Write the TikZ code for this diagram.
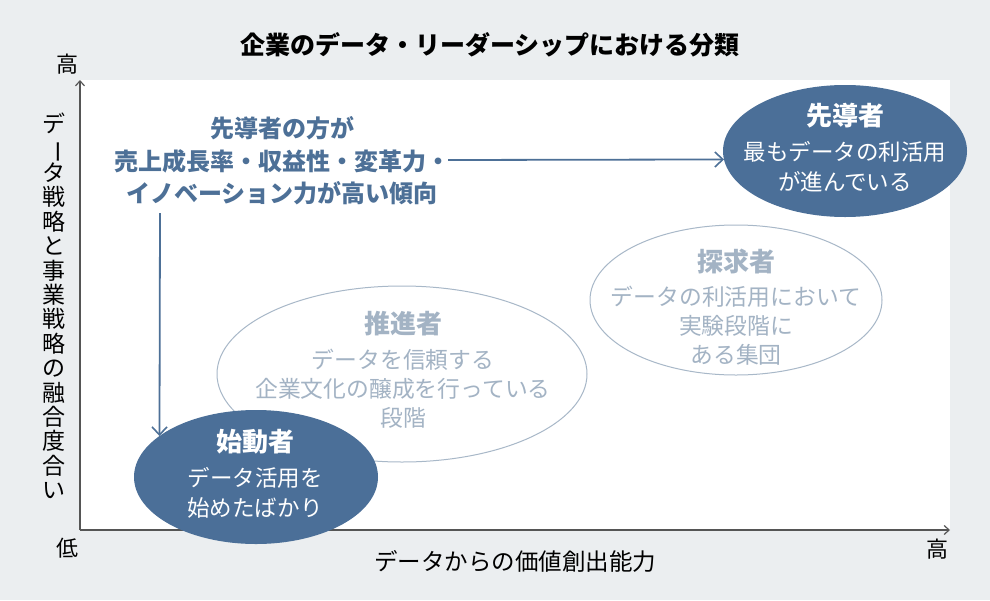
\documentclass[tikz,border=0pt]{standalone}
\usepackage{fontspec}
\setmainfont{Noto Sans CJK JP}
\usepackage{graphicx}
\usetikzlibrary{shapes.geometric,arrows.meta}
\definecolor{bggray}{HTML}{EBEEF0}
\definecolor{darkblue}{HTML}{4B6F98}
\definecolor{bluetext}{HTML}{4D7097}
\definecolor{lighttext}{HTML}{A3B3C4}
\definecolor{lightline}{HTML}{A8B8C8}
\definecolor{axisgray}{HTML}{555555}
\tikzset{
  filledell/.style={ellipse, fill=darkblue, draw=none, inner sep=0pt, outer sep=0pt},
  outlineell/.style={ellipse, draw=lightline, line width=1pt, inner sep=0pt, outer sep=0pt},
  whitetxt/.style={text=white, align=center, inner sep=0pt, font=\fontsize{22.5}{30}\selectfont},
  lighttxt/.style={text=lighttext, align=center, inner sep=0pt, font=\fontsize{22.8}{29}\selectfont},
  bluetxt/.style={text=bluetext, align=center, inner sep=0pt, font=\fontsize{24}{32.5}\selectfont\bfseries},
  axislbl/.style={text=black, inner sep=0pt, font=\fontsize{22}{24}\selectfont},
  axisline/.style={draw=axisgray, line width=1.4pt, -{Straight Barb[length=5pt,width=9pt,line width=1.2pt]}},
  bluearrow/.style={draw=bluetext, line width=1.8pt, -{Straight Barb[length=8pt,width=15pt,line width=1.6pt]}}
}
\newcommand{\vbar}{\smash{\rotatebox[origin=c]{-90}{ー}}}
\newcommand{\ttlfont}{\fontsize{26}{30}\selectfont\bfseries}
\begin{document}
\begin{tikzpicture}[x=1pt,y=-1pt]
\useasboundingbox (0,0) rectangle (990,600);
\fill[bggray] (0,0) rectangle (990,600);
\fill[white] (80,80) rectangle (950,530);

% title
\node[inner sep=0pt, font=\fontsize{25}{30}\selectfont\bfseries] (title) at (490,45) {企業のデータ・リーダーシップにおける分類};

% axes
\coordinate (O) at (80,530);
\coordinate (ytop) at (80,80);
\coordinate (xend) at (950,530);
\draw[axisline] (O) -- (ytop);
\draw[axisline] (O) -- (xend);

\node[axislbl] (yhigh) at (67,64) {高};
\node[axislbl] (ylow) at (67,548) {低};
\node[axislbl] (xhigh) at (937,549) {高};
\node[inner sep=0pt, font=\fontsize{23.5}{26}\selectfont] (xlab) at (515,561) {データからの価値創出能力};
\node[inner sep=0pt, align=center, font=\fontsize{23}{24.4}\selectfont] (ylab) at (54,306)
  {デ\\\vbar\\タ\\戦\\略\\と\\事\\業\\戦\\略\\の\\融\\合\\度\\合\\い};

% ellipses
\node[outlineell, minimum width=370pt, minimum height=176pt] (suishin) at (402,374) {};
\node[outlineell, minimum width=292pt, minimum height=150pt] (tankyu) at (736,300) {};
\node[filledell, minimum width=244pt, minimum height=132pt] (senkou) at (845,151) {};
\node[filledell, minimum width=244pt, minimum height=134pt] (shido) at (256,477) {};

% ellipse texts
\node[whitetxt] (senkoutxt) at (845,148) {{\ttlfont 先導者}\\[5pt]最もデータの利活用\\が進んでいる};
\node[lighttxt] (tankyutxt) at (736,307) {{\ttlfont 探求者}\\[5pt]データの利活用において\\実験段階に\\ある集団};
\node[lighttxt] (suishintxt) at (403,370) {{\ttlfont 推進者}\\[6pt]データを信頼する\\企業文化の醸成を行っている\\段階};
\node[whitetxt] (shidotxt) at (255,474) {{\ttlfont 始動者}\\[5pt]データ活用を\\始めたばかり};

% blue text and arrows
\node[bluetxt] (lead) at (282,161) {先導者の方が\\売上成長率・収益性・変革力・\\イノベーション力が高い傾向};
\coordinate (hstart) at (448,160);
\coordinate (vstart) at (160,213);
\draw[bluearrow] (hstart) -- (senkou.184);
\draw[bluearrow] (vstart) -- (shido.157);
\end{tikzpicture}
\end{document}
